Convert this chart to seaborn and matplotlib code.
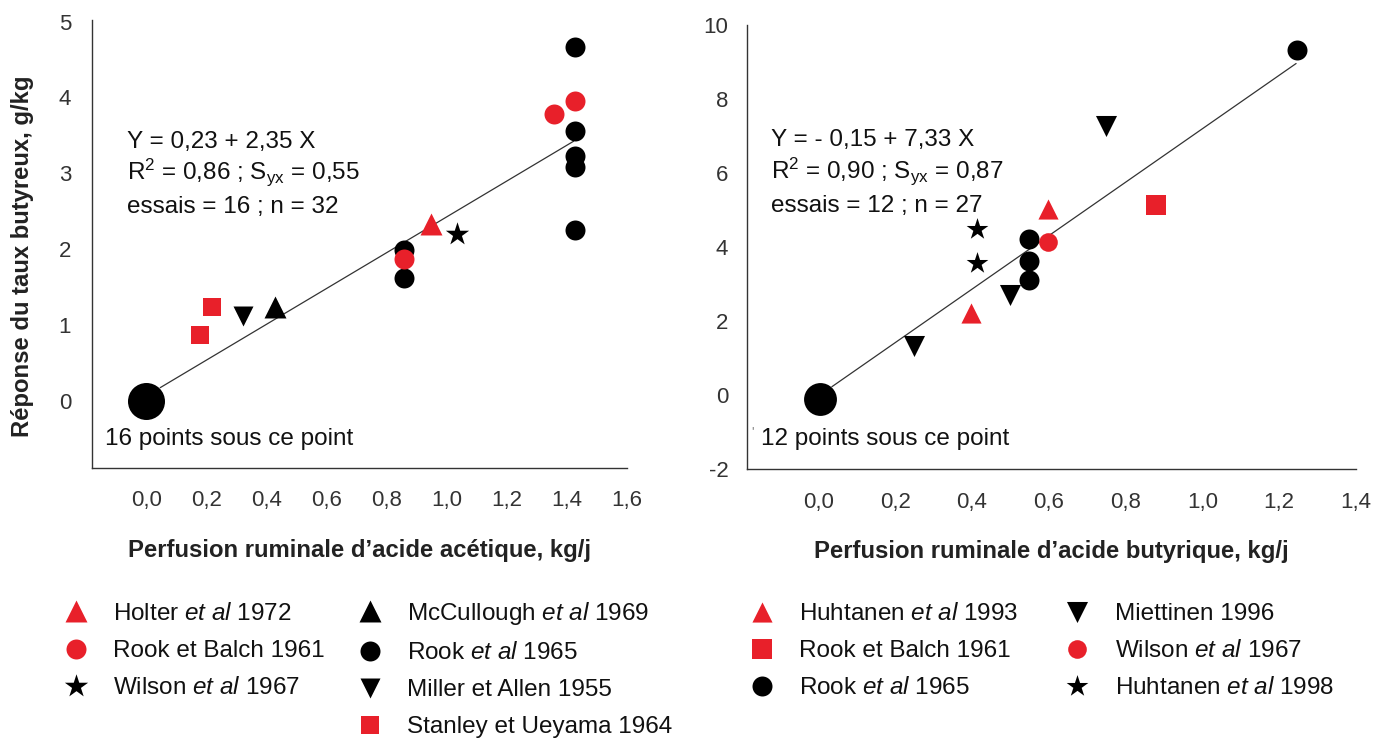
import matplotlib
matplotlib.use('Agg')
import matplotlib.pyplot as plt
import seaborn as sns

RED = '#e8202a'
BLACK = '#000000'
GREY = '#333333'

# ---- panneau gauche : acide acétique ----
ac_holter_x = [0.947]
ac_holter_y = [2.33]
ac_rookbalch_x = [0.858, 1.358, 1.428]
ac_rookbalch_y = [1.87, 3.78, 3.95]
ac_wilson_x = [1.036]
ac_wilson_y = [2.20]
ac_mccullough_x = [0.43]
ac_mccullough_y = [1.24]
ac_rook_x = [0.858, 0.858, 1.428, 1.428, 1.428, 1.428, 1.428]
ac_rook_y = [1.61, 1.99, 4.66, 3.56, 3.22, 3.08, 2.25]
ac_miller_x = [0.324]
ac_miller_y = [1.12]
ac_stanley_x = [0.178, 0.22]
ac_stanley_y = [0.86, 1.23]
ac_origin_x = [0.0]
ac_origin_y = [0.0]
ac_fit_x = [0.047, 1.422]
ac_fit_y = [0.17, 3.42]

# ---- panneau droit : acide butyrique ----
bu_huht93_x = [0.398, 0.597]
bu_huht93_y = [2.23, 5.02]
bu_rookbalch_x = [0.879]
bu_rookbalch_y = [5.13]
bu_rook_x = [0.549, 0.549, 0.549, 1.246]
bu_rook_y = [4.23, 3.62, 3.11, 9.32]
bu_miettinen_x = [0.249, 0.499, 0.749]
bu_miettinen_y = [1.32, 2.72, 7.27]
bu_wilson_x = [0.598]
bu_wilson_y = [4.14]
bu_huht98_x = [0.413, 0.413]
bu_huht98_y = [4.48, 3.58]
bu_origin_x = [0.004]
bu_origin_y = [-0.10]
bu_fit_x = [0.035, 1.244]
bu_fit_y = [0.23, 8.96]

ac_xticks = [0.0, 0.2, 0.4, 0.6, 0.8, 1.0, 1.2, 1.4, 1.6]
bu_xticks = [0.0, 0.2, 0.4, 0.6, 0.8, 1.0, 1.2, 1.4]
ac_yticks = [0, 1, 2, 3, 4, 5]
bu_yticks = [-2, 0, 2, 4, 6, 8, 10]

sns.set_style('white')
plt.rcParams['font.family'] = ['Liberation Sans', 'DejaVu Sans']
plt.rcParams['mathtext.fontset'] = 'custom'
plt.rcParams['mathtext.rm'] = 'Liberation Sans'
plt.rcParams['mathtext.it'] = 'Liberation Sans:italic'
plt.rcParams['mathtext.bf'] = 'Liberation Sans:bold'

fig = plt.figure(figsize=(13.99, 7.38), dpi=100)
ax1 = fig.add_axes([92 / 1399, 1 - 468 / 738, 535 / 1399, 448 / 738])
ax2 = fig.add_axes([747 / 1399, 1 - 469.3 / 738, 609 / 1399, 444.3 / 738])


def pts(ax, x, y, marker, color, s, label='_nolegend_'):
    sns.scatterplot(x=x, y=y, marker=marker, color=color, s=s, linewidth=0,
                    ax=ax, label=label, zorder=3)


def fr(v):
    return f'{v:.1f}'.replace('.', ',')


# left
sns.lineplot(x=ac_fit_x, y=ac_fit_y, color=GREY, linewidth=0.9, ax=ax1, zorder=2)
pts(ax1, ac_origin_x, ac_origin_y, 'o', BLACK, 710)
pts(ax1, ac_holter_x, ac_holter_y, '^', RED, 250, r'Holter $\mathit{et\ al}$ 1972')
pts(ax1, ac_rook_x, ac_rook_y, 'o', BLACK, 207, r'Rook $\mathit{et\ al}$ 1965')
pts(ax1, ac_rookbalch_x, ac_rookbalch_y, 'o', RED, 207, 'Rook et Balch 1961')
pts(ax1, ac_wilson_x, ac_wilson_y, '*', BLACK, 310, r'Wilson $\mathit{et\ al}$ 1967')
pts(ax1, ac_mccullough_x, ac_mccullough_y, '^', BLACK, 250, r'McCullough $\mathit{et\ al}$ 1969')
pts(ax1, ac_miller_x, ac_miller_y, 'v', BLACK, 207, 'Miller et Allen 1955')
pts(ax1, ac_stanley_x, ac_stanley_y, 's', RED, 168, 'Stanley et Ueyama 1964')

# right
sns.lineplot(x=bu_fit_x, y=bu_fit_y, color=GREY, linewidth=0.9, ax=ax2, zorder=2)
pts(ax2, bu_origin_x, bu_origin_y, 'o', BLACK, 560)
pts(ax2, bu_huht93_x, bu_huht93_y, '^', RED, 210, r'Huhtanen $\mathit{et\ al}$ 1993')
pts(ax2, bu_rookbalch_x, bu_rookbalch_y, 's', RED, 190, 'Rook et Balch 1961')
pts(ax2, bu_rook_x, bu_rook_y, 'o', BLACK, 207, r'Rook $\mathit{et\ al}$ 1965')
pts(ax2, bu_miettinen_x, bu_miettinen_y, 'v', BLACK, 230, 'Miettinen 1996')
pts(ax2, bu_wilson_x, bu_wilson_y, 'o', RED, 180, r'Wilson $\mathit{et\ al}$ 1967')
pts(ax2, bu_huht98_x, bu_huht98_y, '*', BLACK, 270, r'Huhtanen $\mathit{et\ al}$ 1998')

for ax, xt, yt, xl, yl, ypad in [(ax1, ac_xticks, ac_yticks, (-0.18, 1.6), (-0.89, 5.02), 10),
                                  (ax2, bu_xticks, bu_yticks, (-0.186, 1.4), (-2, 10), 8.5)]:
    if ax.get_legend():
        ax.get_legend().remove()
    ax.set_xlim(*xl)
    ax.set_ylim(*yl)
    ax.set_xticks(xt)
    ax.set_xticklabels([fr(v) for v in xt])
    ax.set_yticks(yt)
    ax.set_yticklabels([str(v) for v in yt])
    sns.despine(ax=ax)
    for sp in ['left', 'bottom']:
        ax.spines[sp].set_color(GREY)
        ax.spines[sp].set_linewidth(1.0)
    ax.tick_params(direction='out', length=5, width=1, color=GREY,
                   labelcolor=GREY, labelsize=16)
    ax.tick_params(axis='x', pad=11)
    ax.tick_params(axis='y', pad=ypad)

ax1.set_xlabel('Perfusion ruminale d\u2019acide acétique, kg/j', fontsize=17.2,
               fontweight='bold', color='#222222')
ax1.xaxis.set_label_coords(0.5, (468 - 550) / 448)
ax1.xaxis.label.set_va('center')
ax2.set_xlabel('Perfusion ruminale d\u2019acide butyrique, kg/j', fontsize=17.2,
               fontweight='bold', color='#222222')
ax2.xaxis.set_label_coords(0.5, (469.3 - 551.7) / 444.3)
ax2.xaxis.label.set_va('center')
ax1.set_ylabel('Réponse du taux butyreux, g/kg', fontsize=17.2,
               fontweight='bold', color='#222222')
ax1.yaxis.set_label_coords((23 - 92) / 535, (468 - 256) / 448)
ax1.yaxis.label.set_va('center')

# annotations
tk = dict(fontsize=17.5, color='#111111', ha='left', va='baseline')
ax1.text(-0.063, 3.335, 'Y = 0,23 + 2,35 X', **tk)
ax1.text(-0.063, 2.92, r'R$^{2}$ = 0,86 ; S$_{\mathrm{yx}}$ = 0,55', **tk)
ax1.text(-0.063, 2.48, 'essais = 16 ; n = 32', **tk)
ax1.text(-0.137, -0.59, '16 points sous ce point', **tk)

ax2.text(-0.123, 6.72, 'Y = - 0,15 + 7,33 X', **tk)
ax2.text(-0.123, 5.86, r'R$^{2}$ = 0,90 ; S$_{\mathrm{yx}}$ = 0,87', **tk)
ax2.text(-0.123, 4.96, 'essais = 12 ; n = 27', **tk)
ax2.text(-0.15, -1.34, '12 points sous ce point', **tk)
ax2.text(-0.171, -1.0, "'", fontsize=9, color='#777777', ha='center', va='center')

# legends
h1, l1 = ax1.get_legend_handles_labels()
d1 = dict(zip(l1, h1))
blank = plt.Line2D([], [], linestyle='none', marker='')
order1 = [r'Holter $\mathit{et\ al}$ 1972', 'Rook et Balch 1961', r'Wilson $\mathit{et\ al}$ 1967', None,
          r'McCullough $\mathit{et\ al}$ 1969', r'Rook $\mathit{et\ al}$ 1965', 'Miller et Allen 1955',
          'Stanley et Ueyama 1964']
hs1 = [d1[k] if k else blank for k in order1]
ls1 = [k if k else ' ' for k in order1]
leg_kw = dict(loc='upper left', ncol=2, frameon=False, fontsize=17.5, handlelength=0.8,
              labelspacing=0.62, borderpad=0, borderaxespad=0, scatterpoints=1,
              scatteryoffsets=[0.5], labelcolor='#111111')
fig.legend(hs1, ls1, bbox_to_anchor=(66 / 1399, 1 - 600 / 738), handletextpad=1.12,
           columnspacing=1.5, **leg_kw)

h2, l2 = ax2.get_legend_handles_labels()
d2 = dict(zip(l2, h2))
order2 = [r'Huhtanen $\mathit{et\ al}$ 1993', 'Rook et Balch 1961', r'Rook $\mathit{et\ al}$ 1965',
          'Miettinen 1996', r'Wilson $\mathit{et\ al}$ 1967', r'Huhtanen $\mathit{et\ al}$ 1998']
fig.legend([d2[k] for k in order2], order2, bbox_to_anchor=(752 / 1399, 1 - 603 / 738),
           handletextpad=1.15, columnspacing=2.0, **leg_kw)

fig.savefig('out.png', dpi=100)
